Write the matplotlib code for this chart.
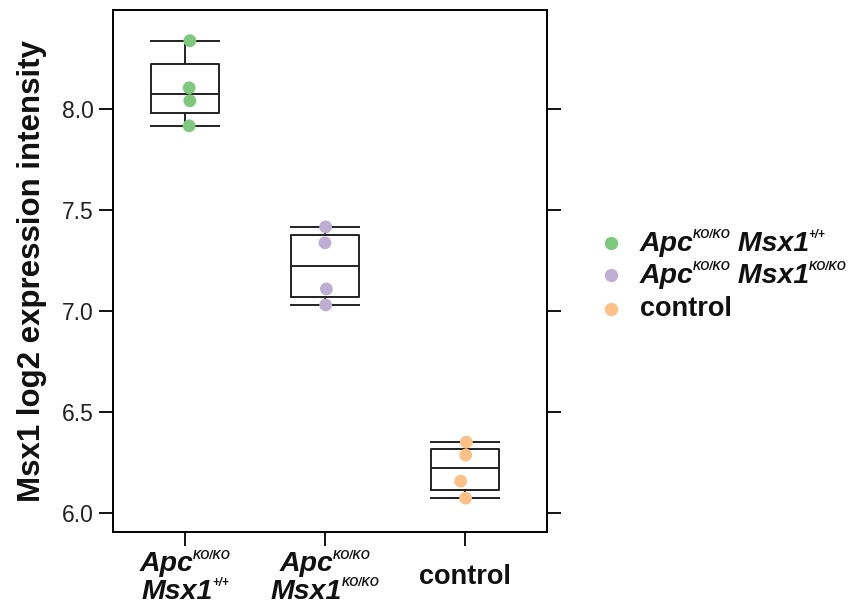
import numpy as np
import matplotlib
matplotlib.use('Agg')
import matplotlib.pyplot as plt
from matplotlib.lines import Line2D
from matplotlib.offsetbox import (TextArea, HPacker, VPacker, DrawingArea,
                                  AnnotationBbox)

plt.rcParams['font.family'] = ['Liberation Sans', 'DejaVu Sans']

# data
groups = ['wt', 'ko', 'control']
# each label: list of lines, each line a list of (text, superscript?)
tick_labels = [
    [[('Apc', False), ('KO/KO', True)], [('Msx1', False), ('+/+', True)]],
    [[('Apc', False), ('KO/KO', True)], [('Msx1', False), ('KO/KO', True)]],
    [[('control', False)]],
]
legend_labels = [
    [('Apc', False), ('KO/KO', True), (' Msx1', False), ('+/+', True)],
    [('Apc', False), ('KO/KO', True), (' Msx1', False), ('KO/KO', True)],
    [('control', False)],
]
values = [
    [8.337, 8.104, 8.040, 7.916],
    [7.416, 7.337, 7.109, 7.030],
    [6.351, 6.287, 6.158, 6.074],
]
jitter = [
    [0.035, 0.03, 0.035, 0.03],
    [0.005, 0.0, 0.01, 0.005],
    [0.01, 0.005, -0.03, 0.005],
]
colors = ['#7fc97f', '#beaed4', '#fdc086']

MAIN = 19.5
MAIN_IT = 20.5
SUP = 8.3


def tukey_stats(v, label):
    v = np.sort(np.asarray(v))
    n = len(v)
    lower = v[:(n + 1) // 2]
    upper = v[n // 2:]
    return dict(med=np.median(v), q1=np.median(lower), q3=np.median(upper),
                whislo=v.min(), whishi=v.max(), fliers=[], label=label)


def rich_line(parts):
    boxes = []
    for txt, sup in parts:
        italic = txt.strip() != 'control'
        size = SUP if sup else (MAIN_IT if italic else MAIN)
        ta = TextArea(txt, textprops=dict(
            fontsize=size, fontweight='bold',
            fontstyle='italic' if italic else 'normal', color='#111111'))
        if sup:
            # raise the superscript with an empty spacer under it
            ta = VPacker(children=[ta, DrawingArea(1, 11)], pad=0, sep=0)
        boxes.append(ta)
    if len(boxes) == 1:
        return boxes[0]
    return HPacker(children=boxes, align='bottom', pad=0, sep=-0.5)


fig = plt.figure(figsize=(8.56, 6.13), dpi=100)
ax = fig.add_axes([0.132, 0.132, 0.507, 0.852])

stats = [tukey_stats(v, g) for v, g in zip(values, groups)]
pos = np.arange(1, len(groups) + 1)
lw = 1.4
ax.bxp(stats, positions=pos, widths=0.49, showfliers=False,
       boxprops=dict(color='#222222', linewidth=lw),
       medianprops=dict(color='#222222', linewidth=lw),
       whiskerprops=dict(color='#222222', linewidth=lw),
       capprops=dict(color='#222222', linewidth=lw),
       capwidths=0.49)

for i, (v, j) in enumerate(zip(values, jitter)):
    ax.scatter(pos[i] + np.array(j), v, s=85, color=colors[i], zorder=3,
               edgecolors='none')

ax.set_xlim(0.486, 3.586)
ax.set_ylim(5.906, 8.49)
ax.set_yticks([6.0, 6.5, 7.0, 7.5, 8.0])
ax.set_yticklabels(['6.0', '6.5', '7.0', '7.5', '8.0'])
ax.set_xticks(pos)
ax.set_xticklabels([''] * len(pos))
ax.tick_params(axis='y', which='both', left=True, right=True, length=10,
               width=1.3, labelsize=16.5, direction='out', pad=4,
               labelcolor='#222222')
ax.tick_params(axis='x', length=10, width=1.3)
for s in ax.spines.values():
    s.set_linewidth(1.4)

# x tick labels with superscripts
for p, lines in zip(pos, tick_labels):
    rows = [rich_line(l) for l in lines]
    box = rows[0] if len(rows) == 1 else VPacker(children=rows, align='center',
                                                pad=0, sep=0)
    ab = AnnotationBbox(box, (p, 0), xycoords=('data', 'axes fraction'),
                        xybox=(0, -32.5), boxcoords='offset points',
                        box_alignment=(0.5, 0.5), frameon=False, pad=0,
                        annotation_clip=False)
    ax.add_artist(ab)

ax.set_ylabel('Msx1 log2 expression intensity', fontsize=22.5,
              fontweight='bold', color='#111111')
ax.yaxis.set_label_coords(-0.152, 0.5)

# legend
row_y = [370, 338, 304]
for c, parts, y in zip(colors, legend_labels, row_y):
    fig.add_artist(Line2D([611 / 856], [y / 613], marker='o', linestyle='none',
                          color=c, markersize=8.6,
                          transform=fig.transFigure))
    ab = AnnotationBbox(rich_line(parts), (640, y), xycoords='figure pixels',
                        box_alignment=(0, 0.5), frameon=False, pad=0,
                        annotation_clip=False)
    fig.add_artist(ab)

fig.savefig('out.png', dpi=100)
